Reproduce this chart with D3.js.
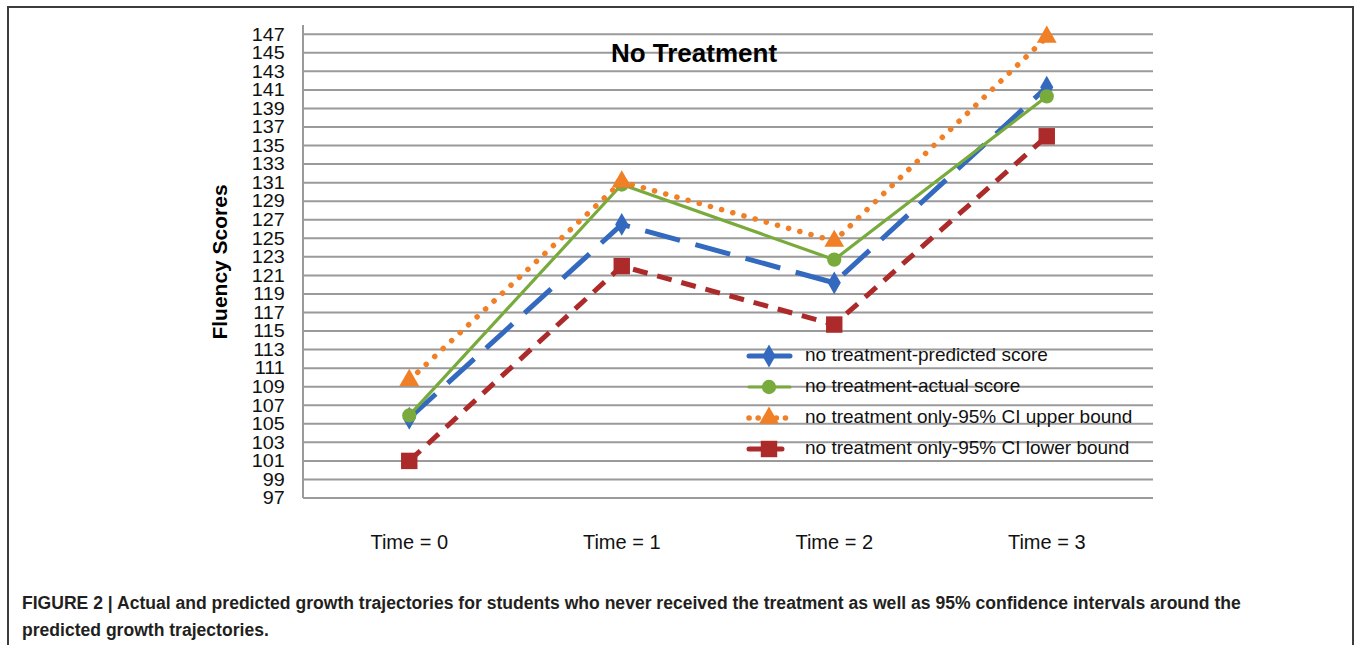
<!DOCTYPE html>
<html>
<head>
<meta charset="utf-8">
<script src="https://cdn.jsdelivr.net/npm/d3@7.9.0/dist/d3.min.js"></script>
<style>
  html, body { margin: 0; padding: 0; background: #fff; }
  svg { display: block; font-family: "Liberation Sans", Arial, Helvetica, sans-serif; }
</style>
</head>
<body>
<svg id="chart" width="1356" height="645"></svg>
<script>
// ============= DATA ==================
const times = ["Time = 0", "Time = 1", "Time = 2", "Time = 3"];
const predicted = [105.6, 126.5, 120.2, 141.3];
const actual = [105.9, 130.8, 122.7, 140.3];
const upperBound = [109.7, 131.1, 124.7, 146.7];
const lowerBound = [101.0, 122.0, 115.7, 136.0];
const yTicks = [97, 99, 101, 103, 105, 107, 109, 111, 113, 115, 117, 119, 121, 123,
  125, 127, 129, 131, 133, 135, 137, 139, 141, 143, 145, 147];
const seriesNames = [
  "no treatment-predicted score",
  "no treatment-actual score",
  "no treatment only-95% CI upper bound",
  "no treatment only-95% CI lower bound"
];
const chartTitle = "No Treatment";
const yTitle = "Fluency Scores";
const caption = [
  "FIGURE 2 | Actual and predicted growth trajectories for students who never received the treatment as well as 95% confidence intervals around the",
  "predicted growth trajectories."
];

// ============= SETUP ==================
const svg = d3.select("#chart");
const plot = { left: 303, right: 1153, top: 25, bottom: 498 };

const x = d3.scaleBand().domain(times).range([plot.left, plot.right]).padding(0);
const y = d3.scaleLinear().domain([97, 148]).range([plot.bottom, plot.top]);
const cx = t => x(t) + x.bandwidth() / 2;

// outer frame
svg.append("rect")
  .attr("x", 8).attr("y", 7)
  .attr("width", 1345).attr("height", 700)
  .attr("fill", "none").attr("stroke", "#3c3c3c").attr("stroke-width", 2);

// gridlines
svg.append("g")
  .selectAll("line")
  .data(yTicks)
  .join("line")
  .attr("x1", plot.left).attr("x2", plot.right)
  .attr("y1", d => y(d)).attr("y2", d => y(d))
  .attr("stroke", "#9a9a9a").attr("stroke-width", 2);

// y axis line
svg.append("line")
  .attr("x1", plot.left).attr("x2", plot.left)
  .attr("y1", plot.top).attr("y2", plot.bottom)
  .attr("stroke", "#9a9a9a").attr("stroke-width", 2);

// y tick labels (tightly packed, as in the original)
const yAxis = svg.append("g")
  .attr("transform", `translate(${plot.left},0)`)
  .call(d3.axisLeft(y).tickValues(yTicks).tickSize(0).tickPadding(18));
yAxis.select(".domain").remove();
yAxis.selectAll("text")
  .attr("font-size", 18)
  .attr("transform", "scale(1.1,1)")
  .attr("font-family", "'Liberation Sans', Arial, sans-serif")
  .attr("fill", "#111");
yAxis.selectAll(".tick text").attr("x", -16.5);

// x labels
const xAxis = svg.append("g")
  .attr("transform", "translate(0,535)")
  .call(d3.axisBottom(x).tickSize(0).tickPadding(0));
xAxis.select(".domain").remove();
xAxis.selectAll("text")
  .attr("font-size", 20)
  .attr("font-family", "'Liberation Sans', Arial, sans-serif")
  .attr("fill", "#111");

// titles
svg.append("text")
  .attr("x", 694).attr("y", 55)
  .attr("text-anchor", "middle").attr("dominant-baseline", "middle")
  .attr("font-size", 26).attr("font-weight", "bold").attr("fill", "#000")
  .text(chartTitle);

svg.append("text")
  .attr("transform", "translate(221,262) rotate(-90)")
  .attr("text-anchor", "middle").attr("dominant-baseline", "middle")
  .attr("font-size", 21).attr("font-weight", "bold").attr("fill", "#000")
  .text(yTitle);

// ============= SERIES ==================
const series = [
  { name: seriesNames[0], values: predicted, color: "#3369bf", width: 5, dash: "36,16", cap: "butt", marker: "diamond", legendDash: null },
  { name: seriesNames[1], values: actual, color: "#78aa3c", width: 3.2, dash: null, cap: "butt", marker: "circle", legendDash: null },
  { name: seriesNames[2], values: upperBound, color: "#f07f26", width: 5.5, dash: "0.1,11.5", cap: "round", marker: "triangle", legendDash: "0.1,9" },
  { name: seriesNames[3], values: lowerBound, color: "#ad2a2a", width: 5, dash: "15,10", cap: "butt", marker: "square", legendDash: "12,9" }
];

const symbolFor = {
  diamond: d3.symbol().type(d3.symbolDiamond).size(150),
  circle: d3.symbol().type(d3.symbolCircle).size(160),
  triangle: d3.symbol().type(d3.symbolTriangle).size(170),
  square: d3.symbol().type(d3.symbolSquare).size(270)
};

const line = d3.line().x((d, i) => cx(times[i])).y(d => y(d));

series.forEach(s => {
  svg.append("path")
    .datum(s.values)
    .attr("d", line)
    .attr("fill", "none")
    .attr("stroke", s.color)
    .attr("stroke-width", s.width)
    .attr("stroke-linecap", s.cap)
    .attr("stroke-linejoin", "round")
    .attr("stroke-dasharray", s.dash);

  svg.append("g")
    .selectAll("path")
    .data(s.values)
    .join("path")
    .attr("transform", (d, i) => `translate(${cx(times[i])},${y(d)})`)
    .attr("d", symbolFor[s.marker])
    .attr("fill", s.color);
});

// ============= LEGEND ==================
const legend = svg.append("g");
series.forEach((s, i) => {
  const ly = 356 + i * 31;
  legend.append("line")
    .attr("x1", 749).attr("x2", 790)
    .attr("y1", ly).attr("y2", ly)
    .attr("stroke", s.color)
    .attr("stroke-width", s.width)
    .attr("stroke-linecap", "round")
    .attr("stroke-dasharray", s.legendDash);
  legend.append("path")
    .attr("transform", `translate(769,${ly})`)
    .attr("d", symbolFor[s.marker])
    .attr("fill", s.color);
  legend.append("text")
    .attr("x", 805).attr("y", ly)
    .attr("dominant-baseline", "middle")
    .attr("font-size", 19).attr("fill", "#111")
    .text(s.name);
});

// ============= CAPTION ==================
const cap = svg.append("g")
  .attr("font-family", "'Liberation Sans Narrow', 'Arial Narrow', 'Liberation Sans', sans-serif")
  .attr("font-weight", "bold").attr("font-size", 19).attr("fill", "#231f20");
const capLines = cap.selectAll("text")
  .data(caption)
  .join("text")
  .attr("x", 0).attr("y", (d, i) => 609 + i * 27)
  .text(d => d);
const w0 = capLines.nodes()[0].getComputedTextLength();
const k = 1220 / w0;
cap.attr("transform", `translate(22,0) scale(${k},1)`);
</script>
</body>
</html>
